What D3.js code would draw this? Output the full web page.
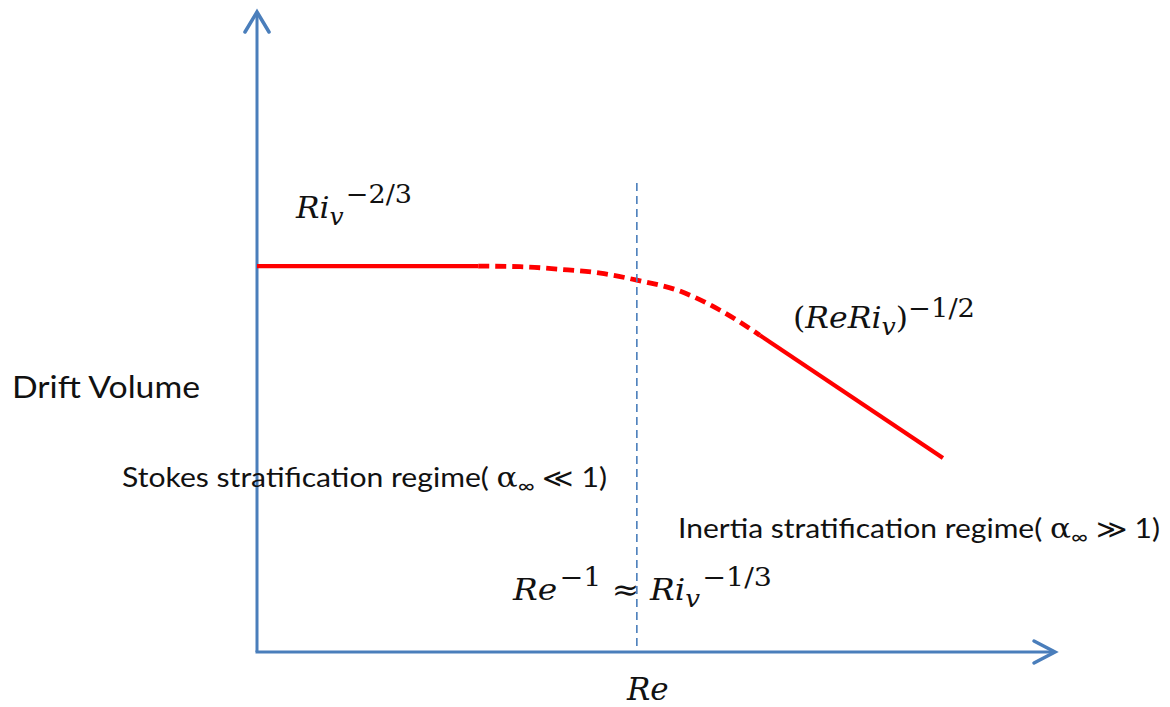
<!DOCTYPE html>
<html>
<head>
<meta charset="utf-8">
<script src="https://cdn.jsdelivr.net/npm/d3@7/dist/d3.min.js"></script>
<style>
  html, body { margin: 0; padding: 0; background: #fff; }
  svg { display: block; }
  .lbl { font-family: "Lato", "Open Sans", sans-serif; fill: #111; }
  .math { font-family: "DejaVu Serif", "Liberation Serif", serif; font-style: italic; fill: #111; }
  .mathup { font-family: "DejaVu Serif", "Liberation Serif", serif; font-style: normal; }
</style>
</head>
<body>
<svg id="chart" width="1170" height="707"></svg>
<script>
// Schematic drift-volume curve in arbitrary units (Re on x, drift volume on y)
const stokesBranch   = [[0, 60.3], [27.9, 60.3]];
const transitionX    = [27.9, 33.2, 38.2, 43.3, 47.9, 53.3, 58.4, 63.4];
const transitionY    = [60.3, 60.2, 59.8, 59.2, 58.1, 56.4, 53.4, 49.5];
const inertiaBranch  = [[63.4, 49.5], [86.5, 30.3]];
const crossoverRe    = 47.9;
const crossoverTop   = 73.3;

const svg = d3.select("#chart");

const x = d3.scaleLinear().domain([0, 100]).range([257, 1050]);
const y = d3.scaleLinear().domain([0, 100]).range([652, 12]);

const axisColor = "#4a7ebb";

// axes with open arrow heads
svg.append("line")
  .attr("x1", x(0)).attr("y1", y(0)).attr("x2", x(0)).attr("y2", y(100))
  .attr("stroke", axisColor).attr("stroke-width", 3);
svg.append("line")
  .attr("x1", x(0) - 1.5).attr("y1", y(0)).attr("x2", x(100) + 4).attr("y2", y(0))
  .attr("stroke", axisColor).attr("stroke-width", 3);

svg.append("path")
  .attr("d", `M${x(0) - 12},${y(100) + 20} L${x(0)},${y(100)} L${x(0) + 12},${y(100) + 20}`)
  .attr("fill", "none").attr("stroke", axisColor).attr("stroke-width", 3.5)
  .attr("stroke-linejoin", "miter").attr("stroke-linecap", "round");
svg.append("path")
  .attr("d", `M${x(100) - 16},${y(0) - 11} L${x(100) + 5},${y(0)} L${x(100) - 16},${y(0) + 11}`)
  .attr("fill", "none").attr("stroke", axisColor).attr("stroke-width", 3.5)
  .attr("stroke-linejoin", "miter").attr("stroke-linecap", "round");

// curve
const line = d3.line().x(d => x(d[0])).y(d => y(d[1]));
const curved = d3.line().x(d => x(d[0])).y(d => y(d[1])).curve(d3.curveMonotoneX);
const red = "#ff0000";

svg.append("path").attr("d", line(stokesBranch))
  .attr("fill", "none").attr("stroke", red).attr("stroke-width", 4.2);
svg.append("path").attr("d", curved(transitionX.map((v, i) => [v, transitionY[i]])))
  .attr("fill", "none").attr("stroke", red).attr("stroke-width", 4.8)
  .attr("stroke-dasharray", "11,6");
svg.append("path").attr("d", line(inertiaBranch))
  .attr("fill", "none").attr("stroke", red).attr("stroke-width", 4.2);

// text labels
svg.append("text").attr("class", "lbl").attr("x", 12).attr("y", 398)
  .attr("font-size", 30).attr("textLength", 188).attr("lengthAdjust", "spacingAndGlyphs")
  .text("Drift Volume");

function mathLabel(px, py, size, parts, len) {
  const t = svg.append("text").attr("class", "math").attr("x", px).attr("y", py)
    .attr("font-size", size);
  parts.forEach(p => {
    const s = t.append("tspan").text(p.t);
    if (p.dy) s.attr("dy", p.dy);
    if (p.fs) s.attr("font-size", p.fs);
    if (p.up) s.attr("class", "mathup");
    if (p.dx) s.attr("dx", p.dx);
  });
  if (len) t.attr("textLength", len).attr("lengthAdjust", "spacingAndGlyphs");
  return t;
}

mathLabel(296, 218, 30, [
  { t: "Ri" },
  { t: "v", dy: 7, fs: 24 },
  { t: "−2/3", dy: -22, fs: 26, up: true, dx: 2 }
], 116);

mathLabel(793, 328, 30, [
  { t: "(", up: true },
  { t: "ReRi" },
  { t: "v", dy: 7, fs: 24 },
  { t: ")", dy: -7, up: true },
  { t: "−1/2", dy: -11, fs: 26, up: true }
], 182);

mathLabel(513, 600, 30, [
  { t: "Re" },
  { t: "−1", dy: -14, fs: 26, up: true, dx: 2 },
  { t: " ≈ ", dy: 14, up: true },
  { t: "Ri" },
  { t: "v", dy: 7, fs: 24 },
  { t: "−1/3", dy: -21, fs: 26, up: true, dx: 2 }
], 259);

mathLabel(627, 700, 31, [{ t: "Re" }]);

function regimeLabel(px, py, name, rel, len) {
  const t = svg.append("text").attr("class", "lbl").attr("x", px).attr("y", py)
    .attr("font-size", 26);
  t.append("tspan").text(name + "( ");
  t.append("tspan").attr("font-family", "DejaVu Serif, serif").attr("font-size", 27).text("α");
  t.append("tspan").attr("font-size", 20).attr("dy", 6).text("∞");
  t.append("tspan").attr("dy", -6).text("  " + rel + " 1)");
  if (len) t.attr("textLength", len).attr("lengthAdjust", "spacingAndGlyphs");
  return t;
}

regimeLabel(122, 487, "Stokes stratification regime", "≪", 485);
regimeLabel(678, 538, "Inertia stratification regime", "≫", 482);

// crossover marker, drawn over the labels
svg.append("line")
  .attr("x1", x(crossoverRe)).attr("x2", x(crossoverRe))
  .attr("y1", y(crossoverTop)).attr("y2", y(0))
  .attr("stroke", "#4a7ebb").attr("stroke-width", 1.6)
  .attr("stroke-dasharray", "8,5");
</script>
</body>
</html>
